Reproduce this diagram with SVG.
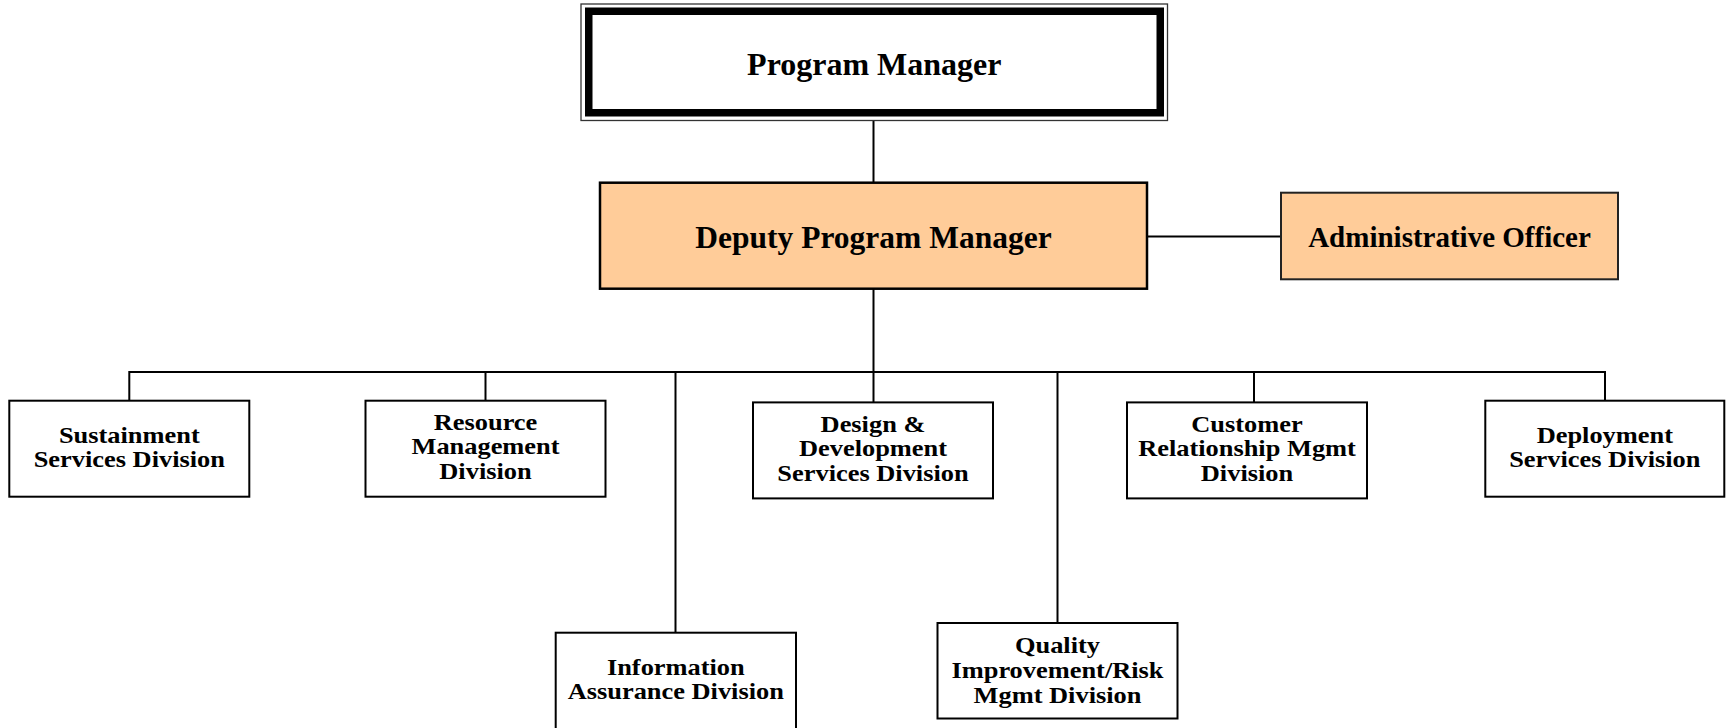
<svg xmlns="http://www.w3.org/2000/svg" width="1726" height="728" viewBox="0 0 1726 728">
<defs>
<style>
.box{fill:#fff;stroke:#000;stroke-width:2}
.orange{fill:#FFCC99;stroke:#000;stroke-width:2.5}
.conn{stroke:#000;stroke-width:2;fill:none;stroke-linejoin:miter}
text{font-family:"Liberation Serif","Times New Roman",serif;font-weight:bold;fill:#000;text-anchor:middle}
.sm{font-size:24px}
</style>
</defs>
<rect width="1726" height="728" fill="#fff"/>
<g id="connectors" class="conn">
<line x1="873.5" y1="120" x2="873.5" y2="183"/>
<line x1="1147" y1="236.5" x2="1281" y2="236.5"/>
<line x1="873.5" y1="289" x2="873.5" y2="372"/>
<path d="M129.3 401 V372 H1605 V401"/>
<line x1="485.5" y1="372" x2="485.5" y2="401"/>
<line x1="873.5" y1="372" x2="873.5" y2="402"/>
<line x1="1254" y1="372" x2="1254" y2="402"/>
<line x1="675.5" y1="372" x2="675.5" y2="633"/>
<line x1="1057.5" y1="372" x2="1057.5" y2="623"/>
</g>
<g id="program-manager">
<rect x="581" y="4" width="586.5" height="116.5" fill="#fff" stroke="#333" stroke-width="1.3"/>
<rect x="588.75" y="11.25" width="571.5" height="101.5" fill="none" stroke="#000" stroke-width="7.5"/>
<text x="874.3" y="75" font-size="32">Program Manager</text>
</g>
<g id="deputy-program-manager">
<rect class="orange" x="600" y="182.7" width="547" height="106"/>
<text x="873.5" y="248.3" font-size="31.5">Deputy Program Manager</text>
</g>
<g id="administrative-officer">
<rect x="1281" y="192.7" width="337" height="86.6" fill="#FFCC99" stroke="#222" stroke-width="2"/>
<text x="1449.5" y="246.5" font-size="29">Administrative Officer</text>
</g>
<g id="sustainment">
<rect class="box" x="9.3" y="400.7" width="240" height="96"/>
<text class="sm" transform="translate(129.3 0) scale(1.1 1)"><tspan x="0" y="442.7">Sustainment</tspan><tspan x="0" y="467.3">Services Division</tspan></text>
</g>
<g id="resource-management">
<rect class="box" x="365.5" y="400.7" width="240" height="96"/>
<text class="sm" transform="translate(485.5 0) scale(1.1 1)"><tspan x="0" y="430">Resource</tspan><tspan x="0" y="454.5">Management</tspan><tspan x="0" y="479">Division</tspan></text>
</g>
<g id="design-development">
<rect class="box" x="753" y="402.4" width="240" height="96"/>
<text class="sm" transform="translate(873 0) scale(1.1 1)"><tspan x="0" y="432">Design &amp;</tspan><tspan x="0" y="456.5">Development</tspan><tspan x="0" y="481">Services Division</tspan></text>
</g>
<g id="customer-relationship">
<rect class="box" x="1127" y="402.4" width="240" height="96"/>
<text class="sm" transform="translate(1247 0) scale(1.1 1)"><tspan x="0" y="432">Customer</tspan><tspan x="0" y="456.5">Relationship Mgmt</tspan><tspan x="0" y="481">Division</tspan></text>
</g>
<g id="deployment">
<rect class="box" x="1485.3" y="400.7" width="239" height="96"/>
<text class="sm" transform="translate(1604.8 0) scale(1.1 1)"><tspan x="0" y="442.7">Deployment</tspan><tspan x="0" y="467.3">Services Division</tspan></text>
</g>
<g id="information-assurance">
<rect class="box" x="555.7" y="632.7" width="240.3" height="100"/>
<text class="sm" transform="translate(675.8 0) scale(1.1 1)"><tspan x="0" y="675">Information</tspan><tspan x="0" y="699.5">Assurance Division</tspan></text>
</g>
<g id="quality-improvement">
<rect class="box" x="937.5" y="623" width="240" height="95.5"/>
<text class="sm" transform="translate(1057.5 0) scale(1.1 1)"><tspan x="0" y="653.5">Quality</tspan><tspan x="0" y="678.5">Improvement/Risk</tspan><tspan x="0" y="703.5">Mgmt Division</tspan></text>
</g>
</svg>
